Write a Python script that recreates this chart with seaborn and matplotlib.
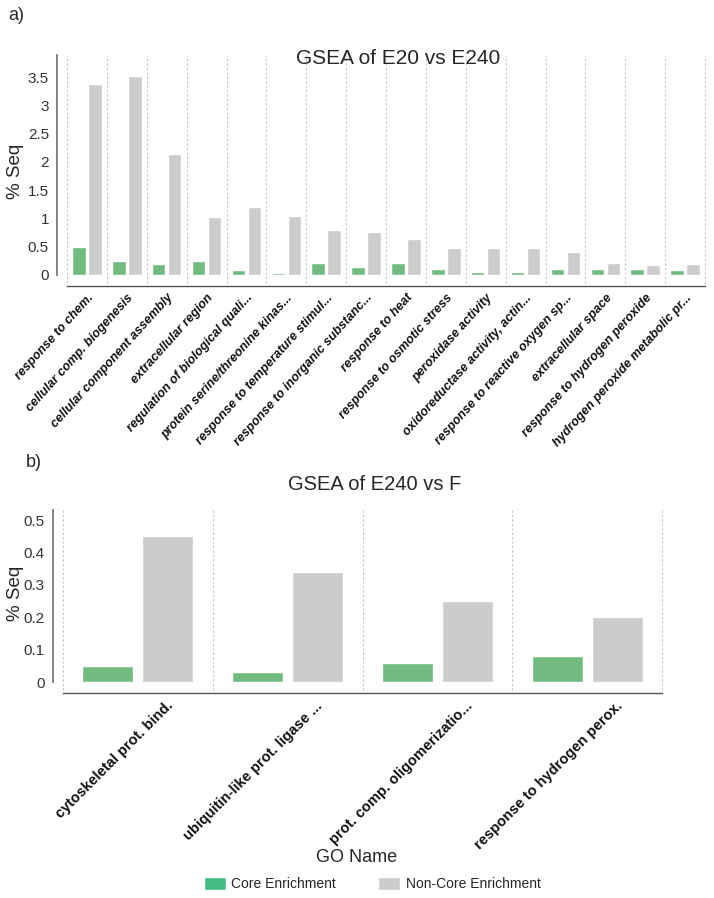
import numpy as np
import pandas as pd
import matplotlib
matplotlib.use("Agg")
import matplotlib.pyplot as plt
import matplotlib.transforms as mtransforms
import seaborn as sns
from matplotlib.patches import Patch

# panel a: GSEA of E20 vs E240
terms_a = ["response to chem.", "cellular comp. biogenesis", "cellular component assembly",
           "extracellular region", "regulation of biological quali...",
           "protein serine/threonine kinas...", "response to temperature stimul...",
           "response to inorganic substanc...", "response to heat",
           "response to osmotic stress", "peroxidase activity",
           "oxidoreductase activity, actin...", "response to reactive oxygen sp...",
           "extracellular space", "response to hydrogen peroxide",
           "hydrogen peroxide metabolic pr..."]
core_a = [0.50, 0.24, 0.19, 0.24, 0.08, 0.03, 0.21, 0.14,
          0.21, 0.11, 0.06, 0.06, 0.11, 0.11, 0.11, 0.08]
noncore_a = [3.38, 3.52, 2.14, 1.02, 1.20, 1.04, 0.80, 0.76,
             0.64, 0.47, 0.48, 0.48, 0.40, 0.22, 0.17, 0.19]
yticks_a = [0, 0.5, 1, 1.5, 2, 2.5, 3, 3.5]
ylabels_a = ["0", "0.5", "1", "1.5", "2", "2.5", "3", "3.5"]

# panel b: GSEA of E240 vs F
terms_b = ["cytoskeletal prot. bind.", "ubiquitin-like prot. ligase ...",
           "prot. comp. oligomerizatio...", "response to hydrogen perox."]
core_b = [0.05, 0.03, 0.06, 0.08]
noncore_b = [0.45, 0.34, 0.25, 0.20]
yticks_b = [0, 0.1, 0.2, 0.3, 0.4, 0.5]
ylabels_b = ["0", "0.1", "0.2", "0.3", "0.4", "0.5"]

groups = ["Core Enrichment", "Non-Core Enrichment"]
palette = {"Core Enrichment": "#71bb80", "Non-Core Enrichment": "#cccccc"}

W, H = 714, 898


def long_table(terms, core, noncore):
    return pd.DataFrame({
        "GO Name": terms + terms,
        "Enrichment": [groups[0]] * len(terms) + [groups[1]] * len(terms),
        "% Seq": core + noncore,
    })


def draw_panel(ax, terms, core, noncore, ymax, yticks, ylabels, style, rot, fs,
               px_h, shift_px=0):
    df = long_table(terms, core, noncore)
    sns.barplot(data=df, x="GO Name", y="% Seq", hue="Enrichment", order=terms,
                hue_order=groups, palette=palette, saturation=1, width=0.8,
                gap=0.15, legend=False, ax=ax)
    n = len(terms)
    # spines first: moving a spine resets the ticks
    for s in ["top", "right"]:
        ax.spines[s].set_visible(False)
    ax.spines["left"].set_position(("outward", 7))
    ax.spines["left"].set_color("#777777")
    ax.spines["left"].set_linewidth(1.3)
    ax.spines["bottom"].set_position(("outward", 8))
    ax.spines["bottom"].set_color("#555555")
    ax.spines["bottom"].set_linewidth(1.0)
    ax.grid(False)

    ax.set_xlim(-0.5, n - 0.5)
    ax.set_ylim(0, ymax)
    ax.set_yticks(yticks, ylabels)
    ax.tick_params(axis="y", length=0, pad=6, labelsize=11, labelcolor="#333333")
    bounds = np.arange(n + 1) - 0.5
    for b in bounds:
        ax.axvline(b, ymin=-8 / px_h, ymax=1, color="#c4c4c4", lw=0.8,
                   ls=(0, (2, 2)), zorder=0, clip_on=False)
    ax.set_xticks(bounds, minor=True)
    ax.tick_params(axis="x", which="minor", length=4, width=0.8, color="#555555",
                   direction="inout")
    ax.tick_params(axis="x", which="major", length=0, pad=4)
    ax.set_xticks(range(n))
    ax.set_xticklabels(terms)
    shift = mtransforms.ScaledTranslation(shift_px / 100, 0, ax.figure.dpi_scale_trans)
    for lab in ax.get_xticklabels():
        lab.set(rotation=rot, ha="right", rotation_mode="anchor", fontweight="bold",
                fontstyle=style, fontsize=fs, color="#111111")
        lab.set_transform(lab.get_transform() + shift)
    ax.set_xlabel("")
    ax.set_ylabel("")


sns.set_theme(style="white")
plt.rcParams["font.family"] = ["Liberation Sans", "DejaVu Sans"]

fig = plt.figure(figsize=(W / 100, H / 100), dpi=100)
fig.patch.set_facecolor("white")

ax_a = fig.add_axes([67 / W, 1 - 275 / H, 638 / W, 220 / H])
draw_panel(ax_a, terms_a, core_a, noncore_a, 3.89, yticks_a, ylabels_a,
           "italic", 48, 9, 220)

ax_b = fig.add_axes([63 / W, 1 - 682 / H, 599 / W, 172 / H])
draw_panel(ax_b, terms_b, core_b, noncore_b, 0.531, yticks_b, ylabels_b,
           "normal", 45, 10.5, 172, shift_px=28)

fig.text(8 / W, 1 - 16 / H, "a)", fontsize=13, ha="left", va="center")
fig.text(26 / W, 1 - 463 / H, "b)", fontsize=13, ha="left", va="center")
fig.text(398 / W, 1 - 58 / H, "GSEA of E20 vs E240", fontsize=15, ha="center", va="center")
fig.text(375 / W, 1 - 485 / H, "GSEA of E240 vs F", fontsize=14.5, ha="center", va="center")
fig.text(16 / W, 1 - 171 / H, "% Seq", fontsize=13.5, rotation=90, ha="center", va="center")
fig.text(16 / W, 1 - 593 / H, "% Seq", fontsize=13.5, rotation=90, ha="center", va="center")
fig.text(357 / W, 1 - 858 / H, "GO Name", fontsize=13, ha="center", va="center")

handles = [Patch(facecolor="#45bc82", label=groups[0]),
           Patch(facecolor="#cccccc", label=groups[1])]
fig.legend(handles=handles, loc="center", bbox_to_anchor=(372 / W, 1 - 884 / H),
           ncol=2, frameon=False, fontsize=10, handlelength=1.6, handleheight=1.1,
           columnspacing=3.0, handletextpad=0.4)

fig.savefig("out.png", dpi=100)
